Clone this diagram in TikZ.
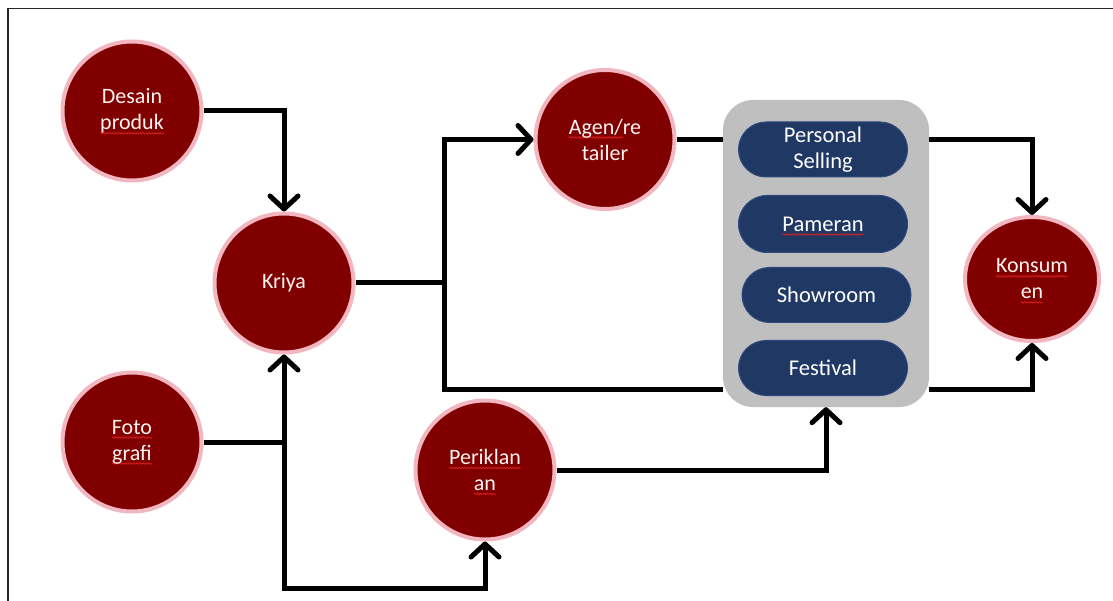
\documentclass[tikz,border=0pt]{standalone}
\usepackage{fontspec}
\setmainfont{Carlito}
\usetikzlibrary{arrows.meta,shapes.geometric,shapes.misc,decorations.pathmorphing}

\definecolor{maroon}{HTML}{800000}
\definecolor{ring}{HTML}{F2B6C1}
\definecolor{navy}{HTML}{203864}
\definecolor{navyedge}{HTML}{2E4A7D}
\definecolor{panel}{HTML}{BFBFBF}
\definecolor{spellred}{HTML}{E02020}
\definecolor{pale}{HTML}{FFF3F3}

% red wavy underline (spell-check mark) under a word
\newdimen\spellw
\newcommand\spell[1]{%
  \setbox0\hbox{#1}\spellw=\wd0\relax
  \leavevmode\rlap{\tikz[baseline=0pt,x=1pt,y=1pt,overlay]
    \draw[spellred, line width=0.7pt, decorate,
          decoration={snake, amplitude=0.8pt, segment length=3pt}]
      (0,-3.4) -- (\the\spellw,-3.4);}%
  \box0}

\tikzset{
  bubble/.style={circle, fill=maroon, draw=ring, line width=4pt,
    minimum size=139pt, inner sep=0pt, text=pale, align=center,
    font=\fontsize{22}{26}\selectfont},
  pill/.style={rounded rectangle, fill=navy, draw=navyedge, line width=1pt,
    minimum width=169pt, minimum height=55pt, inner sep=0pt, text=white,
    align=center, font=\fontsize{22.5}{26.5}\selectfont},
  wire/.style={line width=5pt, black},
  conn/.style={wire, -{Straight Barb[length=13pt,width=28pt,round]}}
}

\begin{document}
\begin{tikzpicture}[x=1pt, y=-1pt]
  \useasboundingbox (0,0) rectangle (1113,601);
  \fill[white] (0,0) rectangle (1113,601);

  % frame
  \draw[line width=1.5pt, black!85] (8,601) -- (8,8.5) -- (1113,8.5);

  % grey channel panel with its four channels
  \node[rounded corners=30pt, fill=panel, minimum width=206pt, minimum height=307pt,
        inner sep=0pt] (box) at (826,253.5) {};
  \node[pill] (sell) at (823,149.5) {Personal\\Selling};
  \node[pill, minimum height=57pt] (pam) at (823,224) {\spell{Pameran}};
  \node[pill] (show) at (826.5,295) {Showroom};
  \node[pill] (fest) at (823,368) {Festival};

  % actors
  \node[bubble] (desain) at (132,111) {Desain\\\spell{produk}};
  \node[bubble] (kriya) at (284,283) {Kriya};
  \node[bubble] (foto) at (132,442) {\spell{Foto}\\\spell{grafi}};
  \node[bubble] (agen) at (605,139.5) {\spell{Agen/}re\\tailer};
  \node[bubble] (perik) at (485,470) {\spell{Periklan}\\\spell{an}};
  \node[ellipse, fill=maroon, draw=ring, line width=4pt, minimum width=134pt,
        minimum height=124pt, inner sep=0pt, text=pale, align=center,
        font=\fontsize{22}{26}\selectfont] (konsum) at (1032,279) {\spell{Konsum}\\\spell{en}};

  % junction points
  \coordinate (split) at (444,283);
  \coordinate (low) at (723,389);
  \coordinate (fsplit) at (kriya.south |- foto.east);
  \coordinate (bl) at (284,588);

  % connectors
  \draw[conn] (desain.east) -| (kriya.north);
  \draw[conn] (foto.east) -| (kriya.south);
  \draw[conn] (fsplit) -- (bl) -| (perik.south);
  \draw[wire] (kriya.east) -- (split);
  \draw[conn] (split) |- (agen.west);
  \draw[wire] (split) |- (low);
  \draw[wire] (agen.east) -- (agen.east -| box.west);
  \draw[conn] (perik.east) -| (box.south);
  \draw[conn] (box.east |- agen.east) -| (konsum.north);
  \draw[conn] (box.east |- low) -| (konsum.south);
\end{tikzpicture}
\end{document}
